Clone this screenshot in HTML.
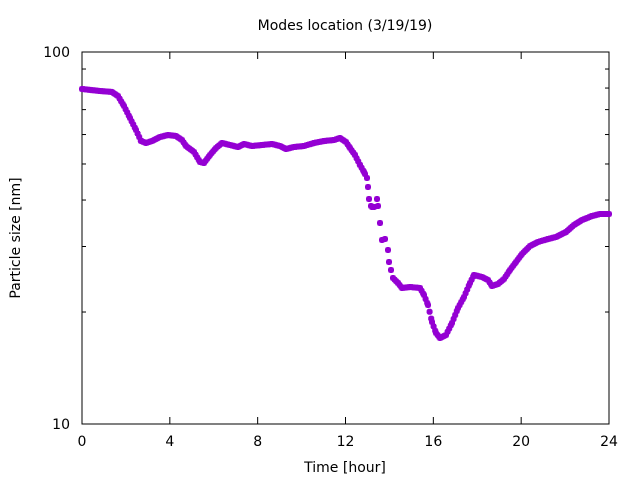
<!DOCTYPE html><html><head><style>body{margin:0;background:#fff}svg{display:block}text{font-family:"DejaVu Sans","Liberation Sans",sans-serif;font-size:14px;fill:#000}</style></head><body>
<svg id="s" width="640" height="480" xmlns="http://www.w3.org/2000/svg">
<rect x="82" y="52" width="527" height="372" fill="none" stroke="#000" stroke-width="1"/>
<text x="345" y="30" text-anchor="middle">Modes location (3/19/19)</text>
<text x="70" y="57" text-anchor="end">100</text>
<text x="70" y="429" text-anchor="end">10</text>
<text x="345" y="472" text-anchor="middle">Time [hour]</text>
<text transform="translate(20,238) rotate(-90)" text-anchor="middle">Particle size [nm]</text>
<g id="t" stroke="#000" stroke-width="1"></g>
<g id="p" fill="#9400d3"></g>
</svg>
<script>
var ns="http://www.w3.org/2000/svg",t=document.getElementById('t'),p=document.getElementById('p'),s=document.getElementById('s');
function ln(a,b,c,d){var l=document.createElementNS(ns,'line');l.setAttribute('x1',a);l.setAttribute('y1',b);l.setAttribute('x2',c);l.setAttribute('y2',d);t.appendChild(l);}
for(var i=0;i<=6;i++){var x=82+i*527/6;ln(x,424,x,417);ln(x,52,x,59);var tx=document.createElementNS(ns,'text');tx.setAttribute('x',x);tx.setAttribute('y',446);tx.setAttribute('text-anchor','middle');tx.textContent=i*4;s.appendChild(tx);}
for(var v=10;v<=100;v+=10){var y=424-Math.log10(v/10)*372;var L=(v==10||v==100)?7:4;ln(82,y,82+L,y);ln(609,y,609-L,y);}
var k=[[82,89],[100,91],[112,92],[118,96],[124,106],[130,118],[136,130],[141,141],[146,143],[152,141],[160,137],[168,135],[176,136],[182,140],[186,146],[194,152],[200,162],[204,163],[210,155],[216,148],[222,143],[230,145],[238,147],[244,144],[252,146],[262,145],[272,144],[280,146],[286,149],[294,147],[304,146],[314,143],[324,141],[334,140],[340,138],[346,142],[350,148],[355,155],[360,165],[364,172]];
var k2=[[393,278],[398,283],[402,288],[410,287],[420,288],[424,295],[428,305],[432,322],[436,333],[440,338],[446,335],[452,323],[458,308],[464,297],[470,283],[474,275],[482,277],[488,280],[492,286],[498,284],[504,279],[510,270],[516,262],[522,254],[530,246],[538,242],[548,239],[556,237],[566,232],[574,225],[582,220],[592,216],[600,214],[609,214]];
function mk(x,y){var r=document.createElementNS(ns,'path');r.setAttribute('d','M'+(x-3)+','+(y-1.5)+'h6v3h-6zM'+(x-1.5)+','+(y-3)+'h3v6h-3zM'+(x-2.5)+','+(y-2.5)+'h5v5h-5z');p.appendChild(r);}
function run(a){for(var i=0;i<a.length-1;i++){var x0=a[i][0],y0=a[i][1],x1=a[i+1][0],y1=a[i+1][1];for(var x=x0;x<x1;x+=1.6){mk(x,y0+(y1-y0)*(x-x0)/(x1-x0));}}mk(a[a.length-1][0],a[a.length-1][1]);}
run(k);run(k2);
[[365,174],[367,178],[368,187],[369,199],[377,199],[371,206],[372,207],[374,207],[378,206],[380,223],[382,240],[385,239],[388,250],[389,262],[391,270]].forEach(function(q){mk(q[0],q[1]);});
</script>
</body></html>
